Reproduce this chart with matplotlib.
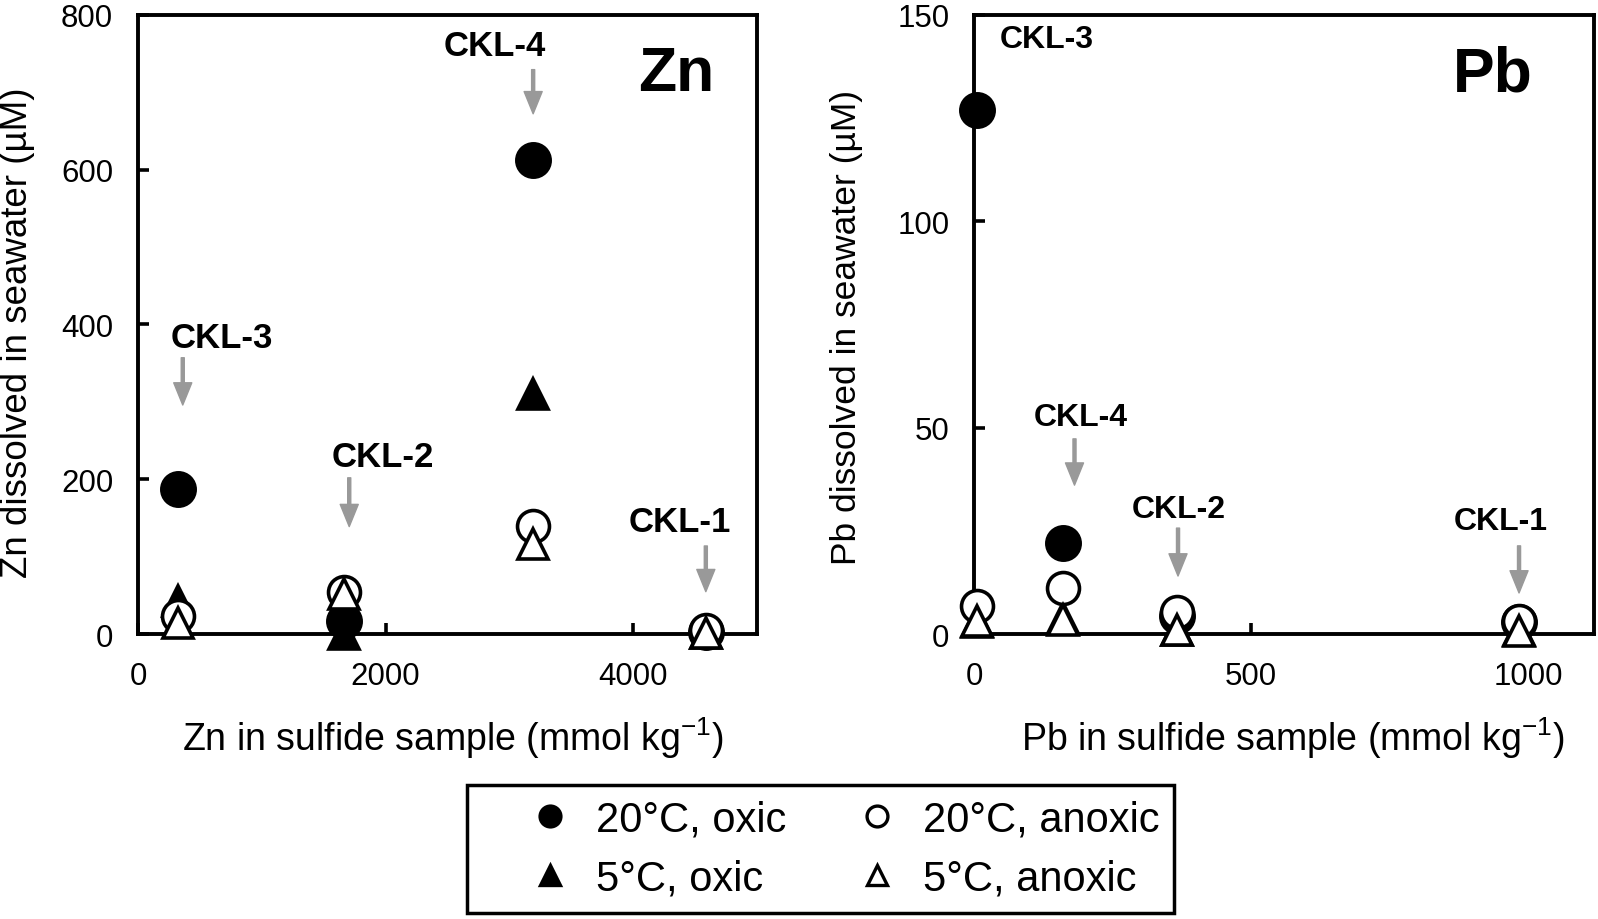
import numpy as np
import matplotlib
matplotlib.use('Agg')
import matplotlib.pyplot as plt
from matplotlib.lines import Line2D
from matplotlib.markers import MarkerStyle

plt.rcParams['font.family'] = ['Liberation Sans', 'DejaVu Sans']
plt.rcParams['mathtext.fontset'] = 'custom'
plt.rcParams['mathtext.rm'] = 'Liberation Sans'
plt.rcParams['mathtext.default'] = 'regular'

samples = ['CKL-1', 'CKL-2', 'CKL-3', 'CKL-4']

# Zn: sulfide content (mmol/kg) and dissolved Zn (uM)
zn_solid = [4590, 1660, 320, 3190]
zn_20_oxic = [3, 17, 188, 612]
zn_5_oxic = [1, 0, 43, 310]
zn_20_anoxic = [5, 55, 23, 140]
zn_5_anoxic = [1, 52, 15, 117]

# Pb
pb_solid = [984, 367, 4, 160]
pb_20_oxic = [3, 4.5, 127, 22]
pb_5_oxic = [1, 1, 3, 4]
pb_20_anoxic = [3.3, 5.3, 6.9, 11.1]
pb_5_anoxic = [0.9, 1.1, 3.1, 3.5]

labels = ['20°C, oxic', '5°C, oxic', '20°C, anoxic', '5°C, anoxic']

# label layout: (name, text x, text y, arrow x, arrow start y, arrow tip y)
zn_notes = [('CKL-4', 2885, 760, 3193, 729, 672),
            ('CKL-3', 675, 383, 360, 357, 296),
            ('CKL-2', 1974, 230, 1706, 202, 139),
            ('CKL-1', 4377, 146, 4589, 114, 55)]
pb_notes = [('CKL-3', 131, 144, None, None, None),
            ('CKL-4', 192, 52.6, 181, 47.3, 36.1),
            ('CKL-2', 370, 30.3, 368, 25.7, 14.1),
            ('CKL-1', 951, 27.4, 984, 21.4, 10.0)]

GREY = '#999999'
tri = MarkerStyle('^', joinstyle='miter')
styles = [dict(marker='o', ms=24, mfc='black', mec='black'),
          dict(marker=tri, ms=21, mfc='black', mec='black'),
          dict(marker='o', ms=23, mfc='white', mec='black'),
          dict(marker=tri, ms=21, mfc='white', mec='black')]


def draw_panel(ax, xs, series, notes, name, name_x, note_size,
               xlim, ylim, xticks, yticks, xlabel, ylabel, ylabel_size):
    for i, ys in enumerate(series):
        ax.plot(xs, ys, ls='none', mew=2.6, clip_on=False, zorder=4 + i, **styles[i])
    for lab, tx, ty, axx, ay0, ay1 in notes:
        ax.text(tx, ty, lab, ha='center', va='center', fontsize=note_size, fontweight='bold')
        if axx is not None:
            ax.annotate('', xy=(axx, ay1), xytext=(axx, ay0),
                        arrowprops=dict(width=2.2, headwidth=13, headlength=16,
                                        facecolor=GREY, edgecolor=GREY))
    ax.text(name_x, 0.905, name, transform=ax.transAxes, ha='center', va='center',
            fontsize=45, fontweight='bold')
    ax.set_xlim(xlim)
    ax.set_ylim(ylim)
    ax.set_xticks(xticks)
    ax.set_yticks(yticks)
    ax.tick_params(direction='in', length=8, width=2.6, labelsize=22.5)
    ax.tick_params(axis='x', pad=19)
    ax.tick_params(axis='y', pad=18)
    for s in ax.spines.values():
        s.set_linewidth(2.8)
    ax.set_xlabel(xlabel, fontsize=27)
    ax.set_ylabel(ylabel, fontsize=ylabel_size)


fig = plt.figure(figsize=(15.98, 9.2), dpi=100)
ax1 = fig.add_axes([0.0865, 0.3095, 0.387, 0.6735])
ax2 = fig.add_axes([0.6097, 0.3095, 0.388, 0.6735])

draw_panel(ax1, zn_solid, [zn_20_oxic, zn_5_oxic, zn_20_anoxic, zn_5_anoxic], zn_notes,
           'Zn', 0.87, 25,
           (0, 5000), (0, 800), [0, 2000, 4000], [0, 200, 400, 600, 800],
           'Zn in sulfide sample (mmol kg$^{-1}$)', 'Zn dissolved in seawater (µM)', 26.5)
draw_panel(ax2, pb_solid, [pb_20_oxic, pb_5_oxic, pb_20_anoxic, pb_5_anoxic], pb_notes,
           'Pb', 0.837, 23,
           (0, 1120), (0, 150), [0, 500, 1000], [0, 50, 100, 150],
           'Pb in sulfide sample (mmol kg$^{-1}$)', 'Pb dissolved in seawater (µM)', 25.5)

ax1.xaxis.set_label_coords(0.509, -0.13)
ax2.xaxis.set_label_coords(0.514, -0.13)
ax1.yaxis.set_label_coords(-0.167, 0.488)
ax2.yaxis.set_label_coords(-0.18, 0.496)

handles = [Line2D([], [], ls='none', mew=2.4, **dict(styles[i], ms=15 if i % 2 == 0 else 14))
           for i in range(4)]
leg = fig.legend(handles, labels, ncol=2, loc='upper left',
                 bbox_to_anchor=(467 / 1598, 1 - 786 / 920, 707 / 1598, 0.0), mode='expand',
                 fontsize=30, frameon=True, fancybox=False, edgecolor='black', framealpha=1,
                 borderpad=0.35, handlelength=3.3, handletextpad=-0.55, labelspacing=0.45,
                 borderaxespad=0)
leg.get_frame().set_linewidth(2.5)

fig.savefig('out.png', dpi=100)
